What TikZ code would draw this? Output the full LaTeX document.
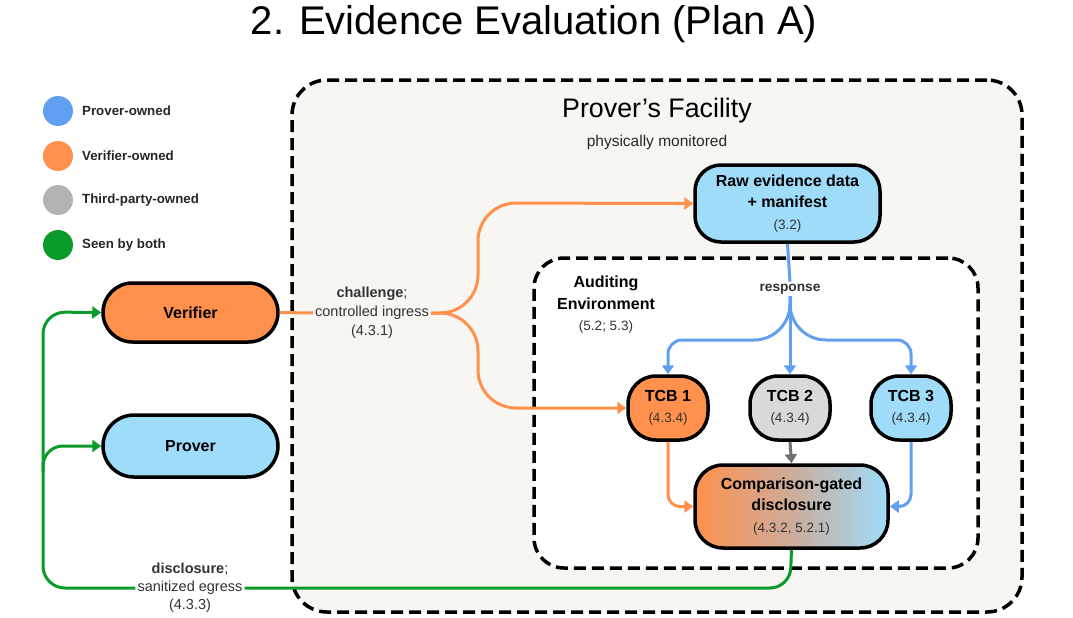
\documentclass[tikz,border=0pt]{standalone}
\usepackage{fontspec}
\setmainfont{Liberation Sans}
\usetikzlibrary{arrows.meta}
\definecolor{vorange}{HTML}{FF914D}
\definecolor{plight}{HTML}{9EDCFA}
\definecolor{pblue}{HTML}{619FF0}
\definecolor{tgray}{HTML}{B3B3B3}
\definecolor{tcbgray}{HTML}{D9D9D9}
\definecolor{sgreen}{HTML}{0A9B2A}
\definecolor{facbg}{HTML}{F7F6F3}
\definecolor{txtgray}{HTML}{333333}
\definecolor{arrgray}{HTML}{707070}
\definecolor{midgrad}{RGB}{205,172,155}
\newcommand{\subtxt}{\fontsize{13.5}{20}\selectfont\mdseries\color{txtgray}}
\begin{document}
\begin{tikzpicture}[x=1pt,y=-1pt,
  box/.style={draw=black,line width=3.5pt,inner sep=0pt,align=center,
    font=\fontsize{16}{21.5}\selectfont\bfseries},
  region/.style={draw=black,line width=3.5pt,dash pattern=on 12pt off 6pt,inner sep=0pt},
  conn/.style={line width=3pt},
  tip/.style={-{Triangle[length=9pt,width=12pt]}},
  lbl/.style={font=\fontsize{14.5}{19}\selectfont,text=txtgray,align=center,inner sep=2pt},
  legdot/.style={circle,minimum size=30pt,inner sep=0pt},
  legtxt/.style={anchor=west,font=\fontsize{13.3}{16}\selectfont\bfseries,text=black!85,inner sep=0pt}]
\useasboundingbox (0,0) rectangle (1073,618);
% title
\node[font=\fontsize{40}{44}\selectfont] (title) at (534,24) {2. Evidence Evaluation (Plan A)};
% legend
\node[legdot,fill=pblue] (l1) at (58,111) {};
\node[legtxt] (l1t) at (82,111) {Prover-owned};
\node[legdot,fill=vorange] (l2) at (58,156) {};
\node[legtxt] (l2t) at (82,156) {Verifier-owned};
\node[legdot,fill=tgray] (l3) at (58,200) {};
\node[legtxt] (l3t) at (82,200) {Third-party-owned};
\node[legdot,fill=sgreen] (l4) at (58,245) {};
\node[legtxt] (l4t) at (82,245) {Seen by both};
% regions
\node[region,fill=facbg,rounded corners=35pt,minimum width=730pt,minimum height=532pt] (facility) at (657,346) {};
\node[font=\fontsize{26.8}{30}\selectfont] (factitle) at (657,111) {Prover’s Facility};
\node[font=\fontsize{15.5}{18}\selectfont,text=black!85] (facsub) at (657,142) {physically monitored};
\node[region,fill=white,rounded corners=30pt,minimum width=444pt,minimum height=310pt] (audit) at (756,413) {};
\node[align=center,font=\fontsize{16}{21.5}\selectfont\bfseries] (audtitle) at (606,305) {Auditing\\Environment\\\subtxt (5.2; 5.3)};
% nodes
\node[box,fill=vorange,rounded corners=29.5pt,minimum width=175pt,minimum height=59pt] (verifier) at (190.5,312.5) {Verifier};
\node[box,fill=plight,rounded corners=31pt,minimum width=175pt,minimum height=62pt] (prover) at (190.5,446) {Prover};
\node[box,fill=plight,rounded corners=26pt,minimum width=185pt,minimum height=77pt] (raw) at (787.5,203.5) {Raw evidence data\\+ manifest\\\subtxt (3.2)};
\node[box,fill=vorange,rounded corners=28pt,minimum width=80pt,minimum height=64pt] (tcb1) at (668,408) {TCB 1\\\subtxt (4.3.4)};
\node[box,fill=tcbgray,rounded corners=28pt,minimum width=80pt,minimum height=64pt] (tcb2) at (790,408) {TCB 2\\\subtxt (4.3.4)};
\node[box,fill=plight,rounded corners=28pt,minimum width=80pt,minimum height=64pt] (tcb3) at (911,408) {TCB 3\\\subtxt (4.3.4)};
\node[box,left color=vorange,right color=plight,middle color=midgrad,rounded corners=28pt,minimum width=193pt,minimum height=83pt] (cmp) at (791.5,506.5) {Comparison-gated\\disclosure\\\subtxt (4.3.2, 5.2.1)};
% labels on connectors
\node[lbl,fill=facbg] (chal) at (372,313) {\textbf{challenge};\\controlled ingress\\(4.3.1)};
\node[lbl,fill=white,font=\fontsize{13.7}{16}\selectfont\bfseries] (resp) at (790,289) {response};
\node[lbl,fill=white,font=\fontsize{14.5}{18}\selectfont] (disc) at (190,588) {\textbf{disclosure};\\sanitized egress\\(4.3.3)};
% orange connectors
\draw[conn,draw=vorange] (verifier.east) -- (chal.west);
\draw[conn,draw=vorange,tip,rounded corners=38pt] (chal.east) -- (478,313) -- (478,203) -- (raw.west);
\draw[conn,draw=vorange,tip,rounded corners=38pt] (chal.east) -- (478,313) -- (478,408) -- (tcb1.west);
% blue response
\draw[conn,draw=pblue] (raw.south) -- (resp.north);
\draw[conn,draw=pblue,tip] (resp.south) -- (tcb2.north);
\draw[conn,draw=pblue,tip] (resp.south) [rounded corners=36pt] -- (790,340) [rounded corners=14pt] -- (668,340) -- (tcb1.north);
\draw[conn,draw=pblue,tip] (resp.south) [rounded corners=36pt] -- (790,340) [rounded corners=14pt] -- (911,340) -- (tcb3.north);
% into comparison
\draw[conn,draw=arrgray,tip] (tcb2.south) -- (cmp.north);
\draw[conn,draw=vorange,tip,rounded corners=12pt] (tcb1.south) -- (tcb1.south |- cmp.west) -- (cmp.west);
\draw[conn,draw=pblue,tip,rounded corners=12pt] (tcb3.south) -- (tcb3.south |- cmp.east) -- (cmp.east);
% green disclosure
\draw[conn,draw=sgreen] (cmp.south) [rounded corners=20pt] -- (790,588) -- (disc.east);
\draw[conn,draw=sgreen,tip,rounded corners=22pt] (disc.west) -- (43,588) -- (43,312) -- (verifier.west);
\draw[conn,draw=sgreen,tip,rounded corners=20pt] (43,472) -- (43,446) -- (prover.west);
\end{tikzpicture}
\end{document}
